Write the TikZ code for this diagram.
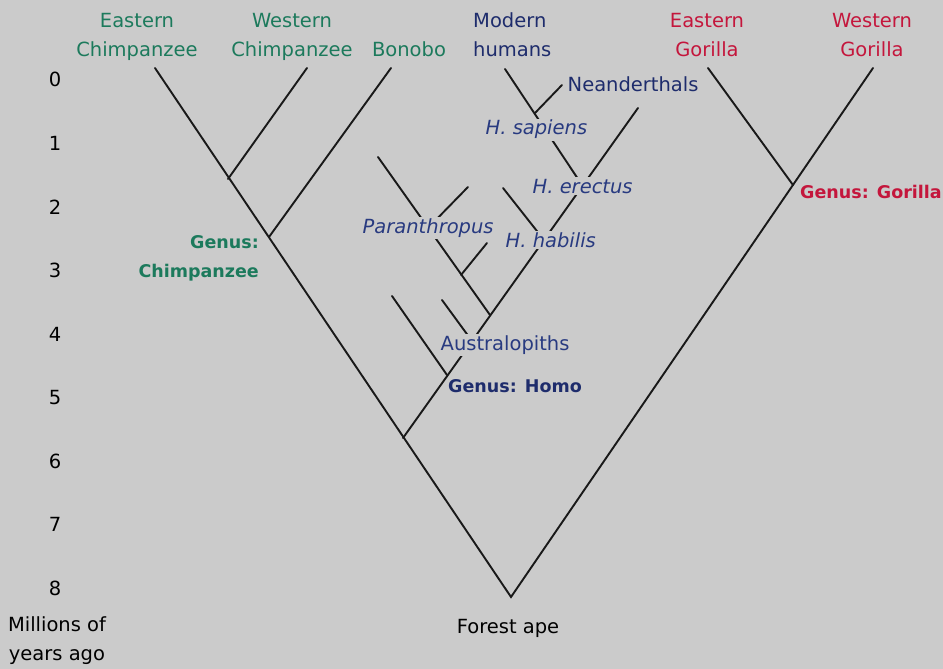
\documentclass[tikz,border=0pt]{standalone}
\usepackage{fontspec}
\setmainfont{DejaVu Sans}
\definecolor{bggray}{RGB}{203,203,203}
\definecolor{chimp}{RGB}{28,122,92}
\definecolor{homo}{RGB}{30,44,108}
\definecolor{homoit}{RGB}{40,58,128}
\definecolor{gorilla}{RGB}{196,22,60}
\begin{document}
\begin{tikzpicture}[x=1pt,y=-1pt,
  brn/.style={line width=1.9pt,draw=black!90,line cap=round},
  sp/.style={font=\fontsize{19.5}{29}\selectfont,inner sep=0pt},
  tag/.style={font=\fontsize{19.5}{24}\selectfont\itshape,text=homoit,fill=bggray,inner sep=1.5pt,anchor=base west},
  genus/.style={font=\fontsize{17.5}{29}\selectfont\bfseries,inner sep=0pt}]
 \fill[bggray](0,0) rectangle (943,669);
 \useasboundingbox (0,0) rectangle (943,669);
 \coordinate (ec) at (155,68);
 \coordinate (wc) at (307,68);
 \coordinate (bo) at (391,68);
 \coordinate (mh) at (505,69);
 \coordinate (ne) at (562,85);
 \coordinate (er) at (638,108);
 \coordinate (hh) at (503,188);
 \coordinate (pa) at (378,157);
 \coordinate (pb) at (468,187);
 \coordinate (pc) at (487,243);
 \coordinate (au) at (442,300);
 \coordinate (ar) at (392,296);
 \coordinate (eg) at (708,68);
 \coordinate (wg) at (873,68);
 \coordinate (fa) at (511,597);
 \coordinate (j1) at (228,179);
 \coordinate (j2) at (269,237);
 \coordinate (j3) at (403,438);
 \coordinate (j4) at (447,375);
 \coordinate (j5) at (472,341);
 \coordinate (j6) at (490,315);
 \coordinate (j7) at (544,240);
 \coordinate (j8) at (582,185);
 \coordinate (j9) at (535,113);
 \coordinate (p1) at (428,228);
 \coordinate (p2) at (461,275);
 \coordinate (j10) at (793,185);
 \draw[brn](ec)--(fa)--(wg);
 \draw[brn](wc)--(j1);
 \draw[brn](bo)--(j2);
 \draw[brn](j3)--(er);
 \draw[brn](ar)--(j4);
 \draw[brn](au)--(j5);
 \draw[brn](pa)--(j6);
 \draw[brn](pb)--(p1);
 \draw[brn](pc)--(p2);
 \draw[brn](hh)--(j7);
 \draw[brn](mh)--(j8);
 \draw[brn](ne)--(j9);
 \draw[brn](eg)--(j10);
 \node[sp,text=chimp,align=center,anchor=base] (lec) at (137,57) {Eastern\\Chimpanzee};
 \node[sp,text=chimp,align=center,anchor=base] (lwc) at (292,57) {Western\\Chimpanzee};
 \node[sp,text=chimp,anchor=base] (lbo) at (409,57) {Bonobo};
 \node[sp,text=homo,align=left,anchor=base west] (lmh) at (473,57) {Modern\\humans};
 \node[sp,text=gorilla,align=center,anchor=base] (leg) at (707,57) {Eastern\\Gorilla};
 \node[sp,text=gorilla,align=center,anchor=base] (lwg) at (872,57) {Western\\Gorilla};
 \node[sp,text=homo,fill=bggray,inner sep=1.5pt,anchor=base west] (lne) at (566,92) {Neanderthals};
 \node[tag] (lsa) at (484,135) {H. sapiens};
 \node[tag] (ler) at (531,193) {H. erectus};
 \node[tag] (lpa) at (361,233) {Paranthropus};
 \node[tag] (lhh) at (504,247) {H. habilis};
 \node[sp,text=homoit,fill=bggray,inner sep=1.5pt,anchor=base west] (lau) at (439,350) {Australopiths};
 \node[genus,text=homo,anchor=base west] (gho) at (448,392) {Genus: Homo};
 \node[genus,text=chimp,align=right,anchor=base east] (gch) at (259,277) {Genus:\\Chimpanzee};
 \node[genus,text=gorilla,anchor=base west] (ggo) at (800,198) {Genus: Gorilla};
 \node[sp,anchor=base] (lfa) at (508,633) {Forest ape};
 \foreach \n in {0,...,8}
  \node[sp,anchor=base] (t\n) at (55,87+63.5*\n) {\n};
 \node[sp,align=center,anchor=base] (lmy) at (57,660) {Millions of\\years ago};
\end{tikzpicture}
\end{document}
